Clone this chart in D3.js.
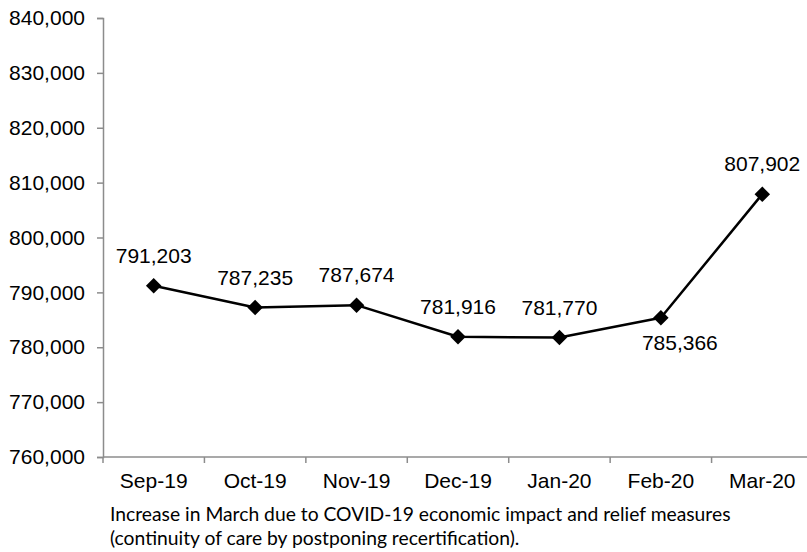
<!DOCTYPE html>
<html>
<head>
<meta charset="utf-8">
<script src="https://cdn.jsdelivr.net/npm/d3@7"></script>
<style>
  html, body { margin: 0; padding: 0; background: #fff; }
  svg text { font-family: "Liberation Sans", Arial, sans-serif; fill: #000; }
  svg text.note { font-family: Lato, "Open Sans", sans-serif; }
</style>
</head>
<body>
<div id="chart"></div>
<script>
// data
const months = ["Sep-19", "Oct-19", "Nov-19", "Dec-19", "Jan-20", "Feb-20", "Mar-20"];
const caseload = [791203, 787235, 787674, 781916, 781770, 785366, 807902];
const yTicks = [760000, 770000, 780000, 790000, 800000, 810000, 820000, 830000, 840000];
const noteLines = [
  "Increase in March due to COVID-19 economic impact and relief measures",
  "(continuity of care by postponing recertification)."
];

const width = 807;
const height = 552;
const axisColor = "#8c8c8c";

const svg = d3
  .select("#chart")
  .append("svg")
  .attr("width", width)
  .attr("height", height);

// plot area runs a bit past the right edge, like the original
const x = d3.scaleBand().domain(months).range([103, 813]).padding(0);
const y = d3.scaleLinear().domain([760000, 840000]).range([457, 18]);

// y axis
const yAxis = svg
  .append("g")
  .attr("transform", "translate(103,0)")
  .call(
    d3.axisLeft(y)
      .tickValues(yTicks)
      .tickSize(6)
      .tickPadding(12)
      .tickFormat(d3.format(","))
  );
yAxis.select(".domain").attr("stroke", axisColor).attr("stroke-width", 1.5);
yAxis.selectAll(".tick line").attr("stroke", axisColor).attr("stroke-width", 1.5);
yAxis.selectAll(".tick text").attr("font-size", 21).attr("fill", "#000");

// x axis: ticks on category edges, labels at centres
const xAxis = svg.append("g").attr("transform", "translate(0,457)");
xAxis
  .append("line")
  .attr("x1", x.range()[0])
  .attr("x2", x.range()[1])
  .attr("stroke", axisColor)
  .attr("stroke-width", 1.5);
const edges = months.map((m) => x(m)).concat([x.range()[1]]);
xAxis
  .selectAll("line.tick")
  .data(edges)
  .join("line")
  .attr("class", "tick")
  .attr("x1", (d) => d)
  .attr("x2", (d) => d)
  .attr("y1", 0)
  .attr("y2", 6)
  .attr("stroke", axisColor)
  .attr("stroke-width", 1.5);
xAxis
  .selectAll("text")
  .data(months)
  .join("text")
  .attr("x", (d) => x(d) + x.bandwidth() / 2)
  .attr("y", 31)
  .attr("text-anchor", "middle")
  .attr("font-size", 21)
  .text((d) => d);

// line
const pts = months.map((m, i) => ({ m, v: caseload[i] }));
const line = d3
  .line()
  .x((d) => x(d.m) + x.bandwidth() / 2)
  .y((d) => y(d.v));

svg
  .append("path")
  .datum(pts)
  .attr("d", line)
  .attr("fill", "none")
  .attr("stroke", "#000")
  .attr("stroke-width", 2.5)
  .attr("stroke-linejoin", "round");

// diamond markers
const diamond = d3.symbol().type(d3.symbolSquare).size(120);
svg
  .append("g")
  .selectAll("path")
  .data(pts)
  .join("path")
  .attr("d", diamond)
  .attr("transform", (d) => `translate(${x(d.m) + x.bandwidth() / 2},${y(d.v)}) rotate(45)`)
  .attr("fill", "#000");

// value labels (Feb-20 sits below the point)
svg
  .append("g")
  .selectAll("text")
  .data(pts)
  .join("text")
  .attr("x", (d) => x(d.m) + x.bandwidth() / 2 + (d.m === "Feb-20" ? 19 : 0))
  .attr("y", (d) => y(d.v) + (d.m === "Feb-20" ? 32 : -23))
  .attr("text-anchor", "middle")
  .attr("font-size", 21)
  .text((d) => d3.format(",")(d.v));

// footnote
svg
  .append("g")
  .selectAll("text")
  .data(noteLines)
  .join("text")
  .attr("class", "note")
  .attr("x", 110)
  .attr("y", (d, i) => 521 + i * 24)
  .attr("font-size", 19.3)
  .text((d) => d);
</script>
</body>
</html>
